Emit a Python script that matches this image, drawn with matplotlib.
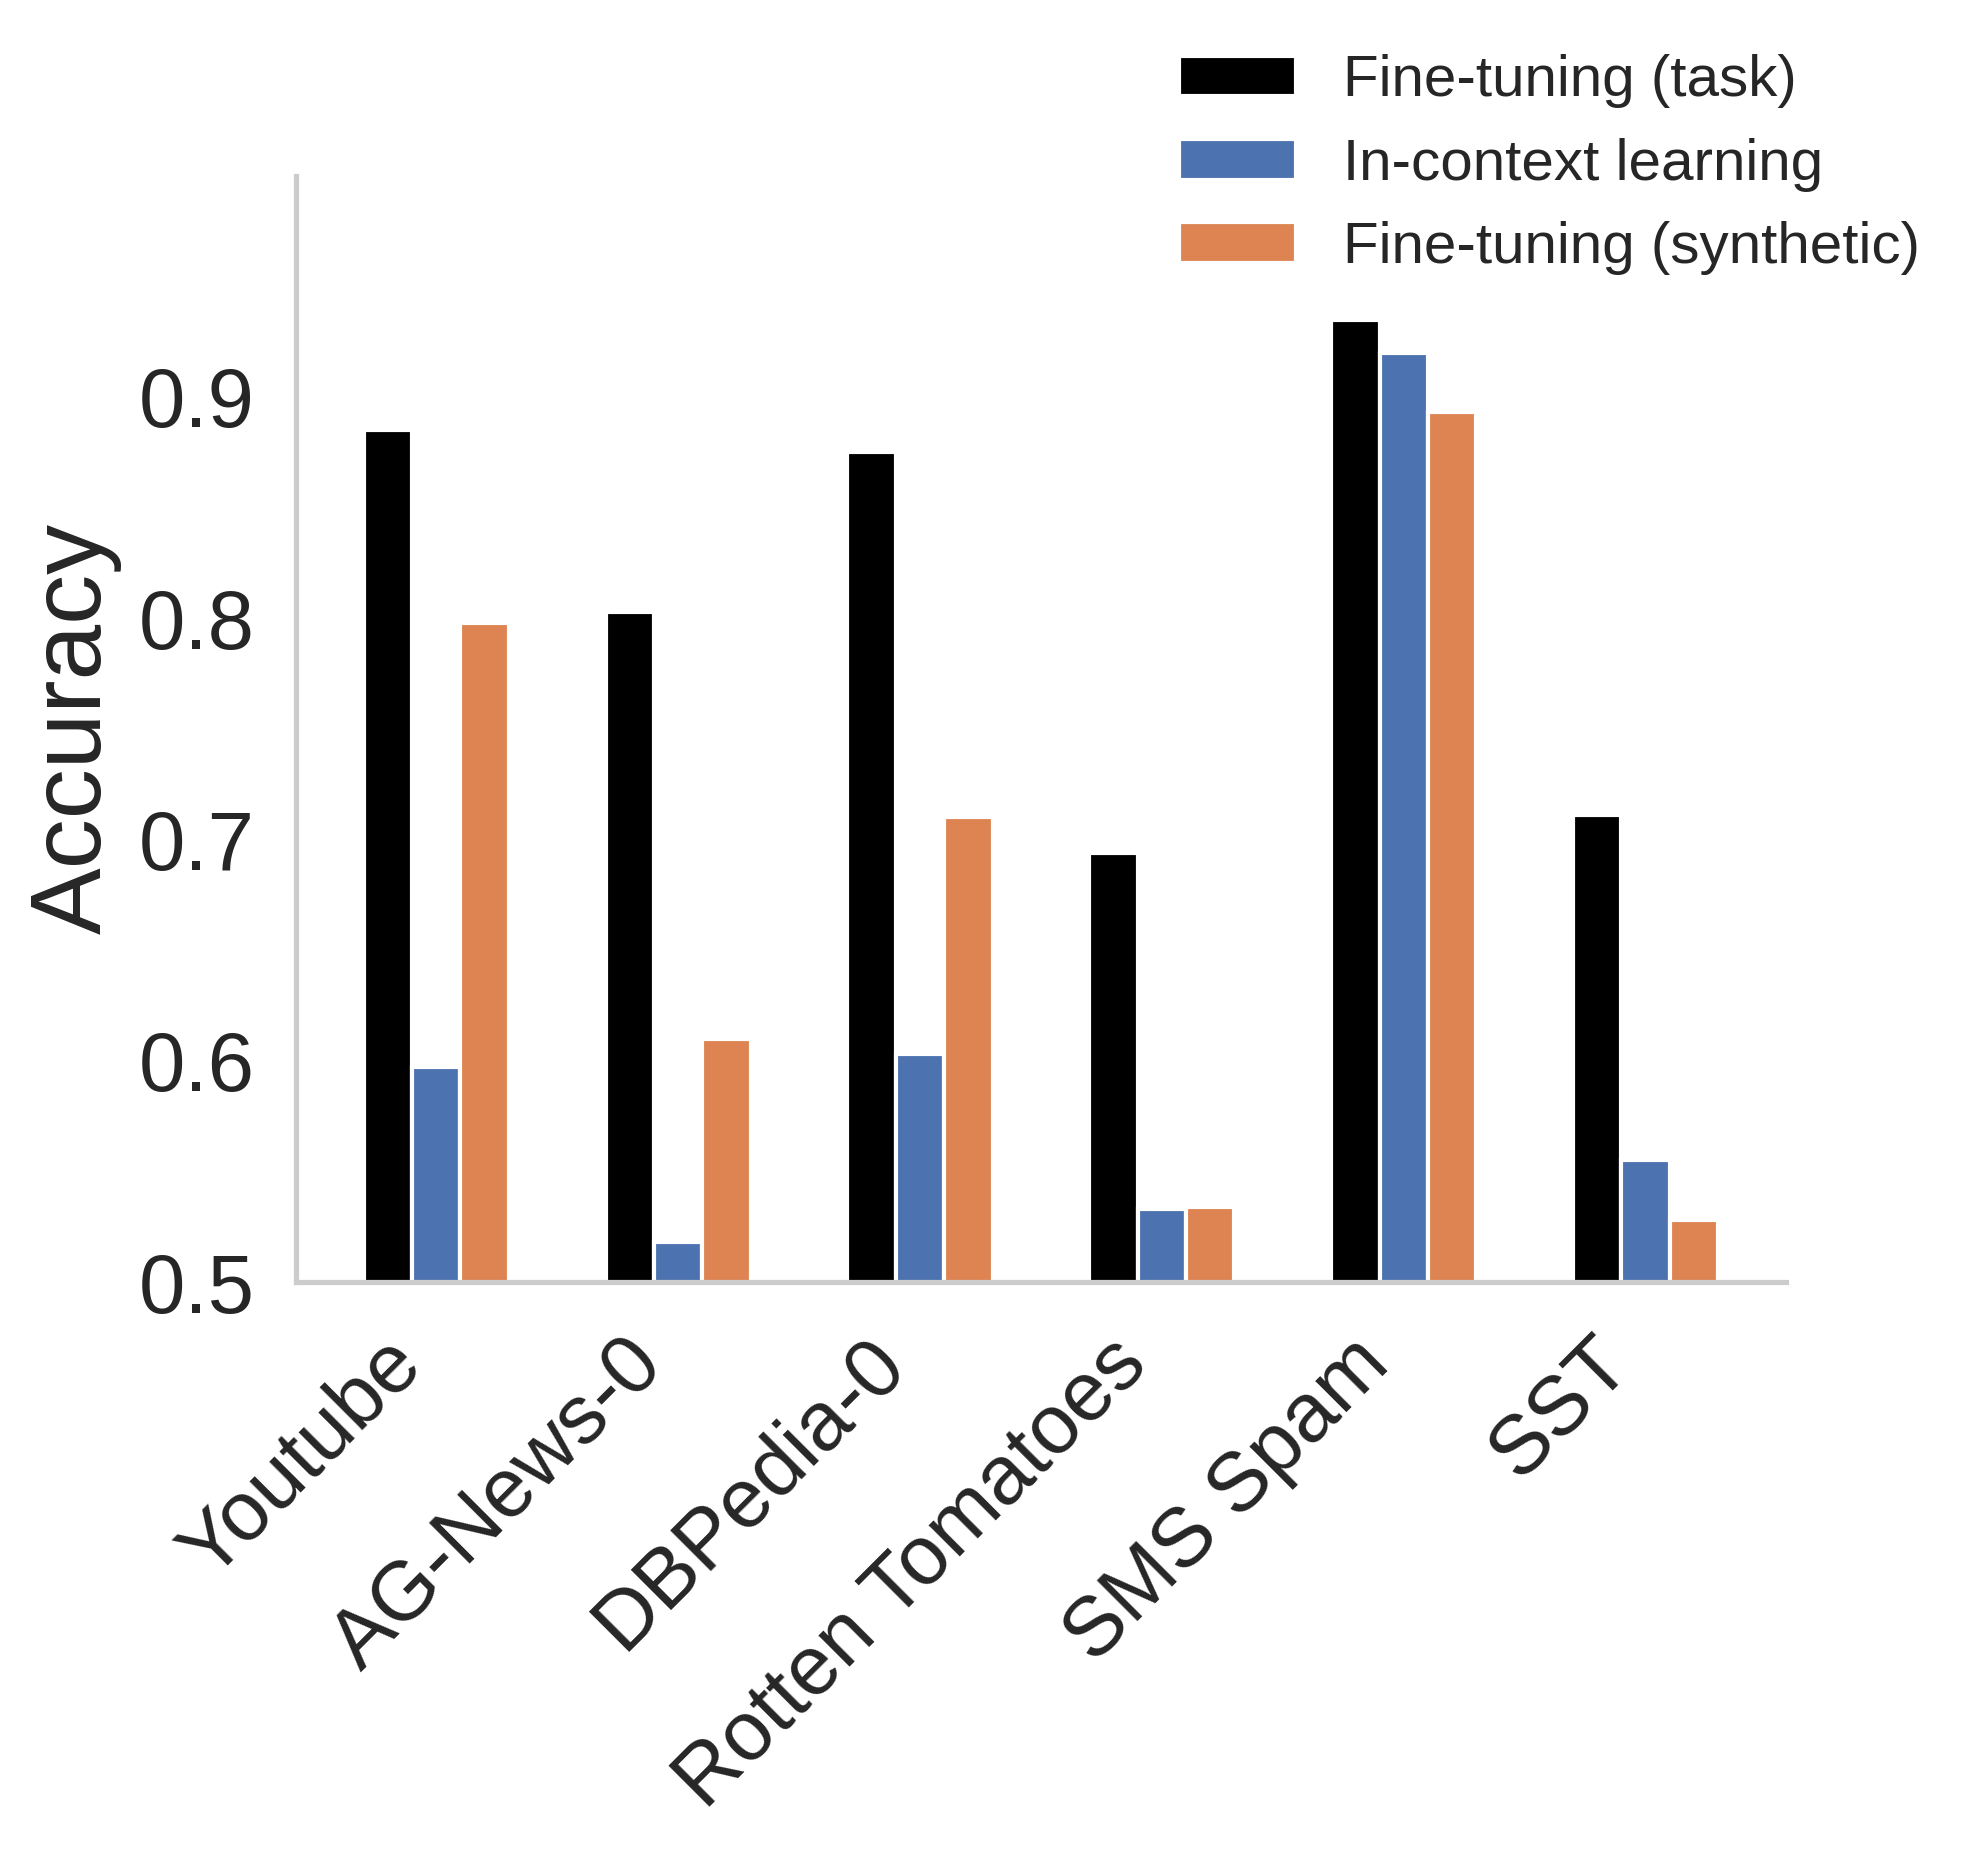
import numpy as np
import matplotlib
matplotlib.use("Agg")
import matplotlib.pyplot as plt

# data
datasets = ["Youtube", "AG-News-0", "DBPedia-0", "Rotten Tomatoes", "SMS Spam", "SST"]
ft_task = [0.885, 0.803, 0.875, 0.694, 0.935, 0.711]
icl = [0.597, 0.518, 0.603, 0.533, 0.920, 0.555]
ft_synth = [0.798, 0.610, 0.710, 0.534, 0.893, 0.528]

series = ["Fine-tuning (task)", "In-context learning", "Fine-tuning (synthetic)"]
colors = ["#000000", "#4C72B0", "#DD8452"]

plt.rcParams['font.family'] = ['Liberation Sans', 'DejaVu Sans']
plt.rcParams['text.color'] = '#262626'
plt.rcParams['axes.labelcolor'] = '#262626'
plt.rcParams['xtick.color'] = '#262626'
plt.rcParams['ytick.color'] = '#262626'

fig = plt.figure(figsize=(1976 / 300, 1857 / 300), dpi=300)
ax = fig.add_axes([0.1498, 0.3096, 0.7540, 0.5958])

x = np.arange(len(datasets))
width = 0.2
for i, (vals, name, c) in enumerate(zip([ft_task, icl, ft_synth], series, colors)):
    ax.bar(x + (i - 1) * width, vals, width, color=c, edgecolor="white",
           linewidth=1, label=name)

ax.set_ylim(0.5, 1.0)
ax.set_yticks([0.5, 0.6, 0.7, 0.8, 0.9])
ax.set_yticklabels(["0.5", "0.6", "0.7", "0.8", "0.9"])
ax.set_xlim(-0.58, 5.58)
ax.set_xticks(x)
ax.set_xticklabels(datasets, rotation=45, ha="right")
ax.tick_params(axis="both", length=0, labelsize=20)
ax.tick_params(axis="y", pad=10)
ax.tick_params(axis="x", pad=10)
ax.set_ylabel("Accuracy", fontsize=24)

for side in ["top", "right"]:
    ax.spines[side].set_visible(False)
for side in ["left", "bottom"]:
    ax.spines[side].set_color("#cccccc")
    ax.spines[side].set_linewidth(1.25)

ax.legend(loc="upper right", bbox_to_anchor=(1.125, 1.157), frameon=False,
          fontsize=14)

plt.savefig("out.png", dpi=300)
